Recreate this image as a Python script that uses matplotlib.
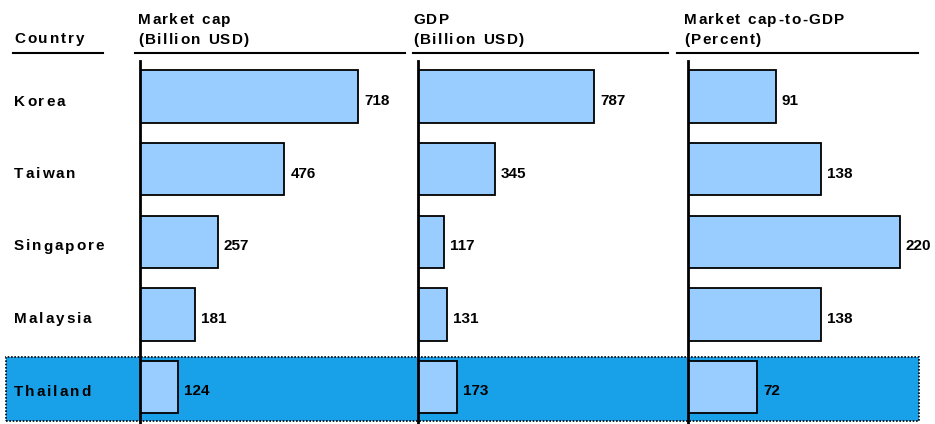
import matplotlib
matplotlib.use("Agg")
import matplotlib.pyplot as plt
from matplotlib.patches import Rectangle
from matplotlib.lines import Line2D

countries = ["Korea", "Taiwan", "Singapore", "Malaysia", "Thailand"]
market_cap = [718, 476, 257, 181, 124]
gdp = [787, 345, 117, 131, 173]
cap_to_gdp = [91, 138, 220, 138, 72]
headers = [("Market cap", "(Billion USD)"), ("GDP", "(Billion USD)"), ("Market cap-to-GDP", "(Percent)")]
highlight = "Thailand"

plt.rcParams['font.family'] = ['Liberation Sans', 'DejaVu Sans']
W, H = 935, 424
fig = plt.figure(figsize=(W / 100, H / 100), dpi=100)
renderer = fig.canvas.get_renderer()


def fx(px):
    return px / W


def fy(py):
    return 1 - py / H


def spaced_text(x_px, base_px, s, size=11, spacing=1.8):
    """Draw bold text with extra letter spacing, baseline at base_px."""
    x = x_px
    space_w = None
    for ch in s:
        if ch == " ":
            if space_w is None:
                t = fig.text(0, 0, "n", fontsize=size, fontweight="bold")
                space_w = t.get_window_extent(renderer).width * 0.5
                t.remove()
            x += space_w + spacing
            continue
        t = fig.text(fx(x), fy(base_px), ch, fontsize=size, fontweight="bold",
                     va="baseline", ha="left")
        w = t.get_window_extent(renderer).width
        x += w + spacing


bar_color = "#99CCFF"
hl_color = "#18A1E8"

# highlight band
fig.patches.append(Rectangle((fx(6), fy(421)), fx(919) - fx(6), (421 - 357) / H,
                             transform=fig.transFigure, facecolor=hl_color,
                             edgecolor="black", linestyle=(0, (1, 1)), linewidth=1.2, zorder=0))

# panels: (left px, right px, xmax)
panels = [(140, 405, 873), (418, 668, 1118), (688, 918, 238.7)]
series = [market_cap, gdp, cap_to_gdp]
ytop, ybot = 61, 424
for (l, r, xmax), vals in zip(panels, series):
    ax = fig.add_axes([fx(l), fy(ybot), (r - l) / W, (ybot - ytop) / H])
    ax.set_zorder(1)
    ax.patch.set_visible(False)
    y = list(range(len(countries)))
    ax.barh(y, vals, height=0.72, color=bar_color, edgecolor="black", linewidth=1.3)
    ax.set_xlim(0, xmax)
    ax.set_ylim(4.51, -0.49)
    for s in ["top", "right", "bottom"]:
        ax.spines[s].set_visible(False)
    ax.spines["left"].set_linewidth(2)
    ax.set_xticks([])
    ax.set_yticks([])
    for yi, v in zip(y, vals):
        ax.annotate(str(v), (v, yi), xytext=(4.3, -6.0), textcoords="offset points",
                    ha="left", va="baseline", fontsize=11, fontweight="bold")

# headers
head_x = [138, 413, 684]
line_spans = [(135, 405), (413, 668), (677, 918)]
for (t1, t2), x, (a, b) in zip(headers, head_x, line_spans):
    spaced_text(x, 24, t1, spacing=1.4)
    spaced_text(x, 44, t2, spacing=1.4)
    fig.add_artist(Line2D([fx(a), fx(b)], [fy(53), fy(53)], color="black", linewidth=1.5))

spaced_text(14, 43, "Country", spacing=2.0)
fig.add_artist(Line2D([fx(13), fx(103)], [fy(53), fy(53)], color="black", linewidth=1.5))

baselines = [105.5, 178, 250.5, 323, 396.5]
for c, yb in zip(countries, baselines):
    spaced_text(14, yb, c, spacing=1.9)

fig.savefig("out.png", dpi=100)
